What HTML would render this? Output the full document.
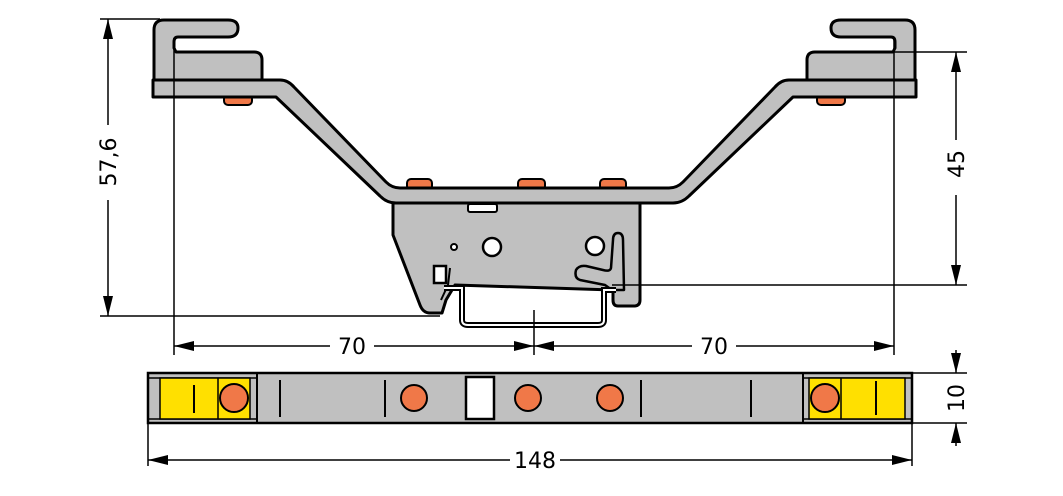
<!DOCTYPE html>
<html><head><meta charset="utf-8"><style>
html,body{margin:0;padding:0;background:#fff;}
svg{display:block;}
text{font-family:"DejaVu Sans","Liberation Sans",sans-serif;font-size:22px;fill:#000;}
</style></head><body>
<svg width="1063" height="496" viewBox="0 0 1063 496" xmlns="http://www.w3.org/2000/svg">
<defs>
<marker id="a" viewBox="0 0 20 10" refX="20" refY="5" markerWidth="20" markerHeight="10" markerUnits="userSpaceOnUse" orient="auto-start-reverse"><path d="M0,0 L20,5 L0,10 Z" fill="#000"/></marker>
<g id="clip">
<path d="M154,80 L154,30 Q154,20 164,20 L228,20 Q238,20 238,28 Q238,37 228,37 L178,37 Q174,37 174,42 L174,48 L176,52 L254,52 Q262,52 262,60 L262,80 Z" fill="#c0c0c0" stroke="#000" stroke-width="3" stroke-linejoin="round"/>
<rect x="224" y="95" width="28" height="10" rx="4" fill="#f07848" stroke="#000" stroke-width="2"/>
</g>
</defs>

<!-- pads top center -->
<rect x="407" y="179" width="25" height="11" rx="4" fill="#f07848" stroke="#000" stroke-width="2"/>
<rect x="518" y="179" width="27" height="11" rx="4" fill="#f07848" stroke="#000" stroke-width="2"/>
<rect x="600" y="179" width="26" height="11" rx="4" fill="#f07848" stroke="#000" stroke-width="2"/>

<use href="#clip"/>
<use href="#clip" transform="translate(1069,0) scale(-1,1)"/>

<!-- body -->
<path d="M393,203 L640,203 L640,300 Q640,306 634,306 L618,306 Q613,306 613,300 L613,290 L455,285 L446,300 L442,313 L430,313 Q423,313 420,305 L393,235 Z" fill="#c0c0c0" stroke="#000" stroke-width="3" stroke-linejoin="round"/>
<!-- plate -->
<path d="M153,80 L280,80 Q288,80 294,87 L386,182 Q392,188 400,188 L669,188 Q677,188 683,182 L775,87 Q781,80 789,80 L916,80 L916,97 L793,97 L689,196 Q682,203 673,203 L396,203 Q387,203 380,196 L276,97 L153,97 Z" fill="#c0c0c0" stroke="#000" stroke-width="3" stroke-linejoin="round"/>

<rect x="468" y="204" width="29" height="8" rx="2" fill="#fff" stroke="#000" stroke-width="2"/>
<circle cx="454" cy="247" r="3" fill="#fff" stroke="#000" stroke-width="2"/>
<circle cx="492" cy="247" r="9" fill="#fff" stroke="#000" stroke-width="2.5"/>
<circle cx="595" cy="246" r="9" fill="#fff" stroke="#000" stroke-width="2.5"/>
<!-- lever -->
<path d="M613,240 Q613,233 618,233 Q623,233 623,240 L624,290 L612,290 L605,285 L580,280 Q574,278 576,270 Q579,265 586,266 L603,270 Q610,272 611,268 Z" fill="#c0c0c0" stroke="#000" stroke-width="2.5" stroke-linejoin="round"/>
<!-- clip square -->
<rect x="434" y="266" width="12" height="17" fill="#fff" stroke="#000" stroke-width="2.5"/>
<path d="M450,268 L448,285 L441,300" fill="none" stroke="#000" stroke-width="2"/>

<!-- DIN rail -->
<path d="M444,288 L462,288 L462,320 Q462,325 468,325 L598,325 Q604,325 604,320 L604,290 L616,290" fill="none" stroke="#000" stroke-width="6"/>
<path d="M444,288 L462,288 L462,320 Q462,325 468,325 L598,325 Q604,325 604,320 L604,290 L616,290" fill="none" stroke="#fff" stroke-width="2"/>

<!-- dimension lines top -->
<g stroke="#000" stroke-width="1.5" fill="none">
<line x1="100" y1="19" x2="160" y2="19"/>
<line x1="100" y1="316" x2="440" y2="316"/>
<line x1="108" y1="19" x2="108" y2="125" marker-start="url(#a)"/>
<line x1="108" y1="200" x2="108" y2="316" marker-end="url(#a)"/>
<line x1="174" y1="38" x2="174" y2="355"/>
<line x1="894" y1="38" x2="894" y2="355"/>
<line x1="893" y1="52" x2="967" y2="52"/>
<line x1="612" y1="285" x2="967" y2="285"/>
<line x1="956" y1="52" x2="956" y2="140" marker-start="url(#a)"/>
<line x1="956" y1="195" x2="956" y2="285" marker-end="url(#a)"/>
<line x1="534" y1="310" x2="534" y2="355"/>
<line x1="174" y1="346" x2="330" y2="346" marker-start="url(#a)"/>
<line x1="374" y1="346" x2="534" y2="346" marker-end="url(#a)"/>
<line x1="534" y1="346" x2="692" y2="346" marker-start="url(#a)"/>
<line x1="736" y1="346" x2="894" y2="346" marker-end="url(#a)"/>
</g>
<text x="352" y="354" text-anchor="middle">70</text>
<text x="714" y="354" text-anchor="middle">70</text>
<text transform="translate(116,162) rotate(-90)" text-anchor="middle">57,6</text>
<text transform="translate(964,164) rotate(-90)" text-anchor="middle">45</text>

<!-- bottom strip -->
<rect x="148" y="373" width="764" height="50" fill="#c0c0c0" stroke="#000" stroke-width="2.5"/>
<g stroke="#000" stroke-width="1.5">
<line x1="148" y1="378" x2="257" y2="378"/><line x1="148" y1="419" x2="257" y2="419"/>
<line x1="257" y1="373" x2="257" y2="423" stroke-width="2"/>
<line x1="803" y1="378" x2="912" y2="378"/><line x1="803" y1="419" x2="912" y2="419"/>
<line x1="803" y1="373" x2="803" y2="423" stroke-width="2"/>
</g>
<rect x="160" y="378" width="90" height="41" fill="#ffe000" stroke="#000" stroke-width="1.5"/>
<line x1="218" y1="378" x2="218" y2="419" stroke="#000" stroke-width="1.5"/>
<rect x="809" y="378" width="96" height="41" fill="#ffe000" stroke="#000" stroke-width="1.5"/>
<line x1="841" y1="378" x2="841" y2="419" stroke="#000" stroke-width="1.5"/>
<g stroke="#000" stroke-width="2">
<line x1="194" y1="385" x2="194" y2="413"/>
<line x1="280" y1="380" x2="280" y2="417"/>
<line x1="385" y1="380" x2="385" y2="417"/>
<line x1="641" y1="380" x2="641" y2="417"/>
<line x1="751" y1="380" x2="751" y2="417"/>
<line x1="876" y1="381" x2="876" y2="415"/>
</g>
<g fill="#f07848" stroke="#000" stroke-width="2">
<circle cx="234" cy="398" r="14"/>
<circle cx="414" cy="398" r="13"/>
<circle cx="528" cy="398" r="13"/>
<circle cx="610" cy="398" r="13"/>
<circle cx="825" cy="398" r="14"/>
</g>
<rect x="466" y="377" width="28" height="42" fill="#fff" stroke="#000" stroke-width="2.5"/>

<!-- bottom dims -->
<g stroke="#000" stroke-width="1.5" fill="none">
<line x1="148" y1="423" x2="148" y2="466"/>
<line x1="912" y1="423" x2="912" y2="466"/>
<line x1="148" y1="460" x2="510" y2="460" marker-start="url(#a)"/>
<line x1="560" y1="460" x2="912" y2="460" marker-end="url(#a)"/>
<line x1="912" y1="373" x2="967" y2="373"/>
<line x1="912" y1="423" x2="967" y2="423"/>
<line x1="956" y1="350" x2="956" y2="373" marker-end="url(#a)"/>
<line x1="956" y1="446" x2="956" y2="423" marker-end="url(#a)"/>
</g>
<text x="535" y="468" text-anchor="middle">148</text>
<text transform="translate(964,398) rotate(-90)" text-anchor="middle">10</text>
</svg>
</body></html>
